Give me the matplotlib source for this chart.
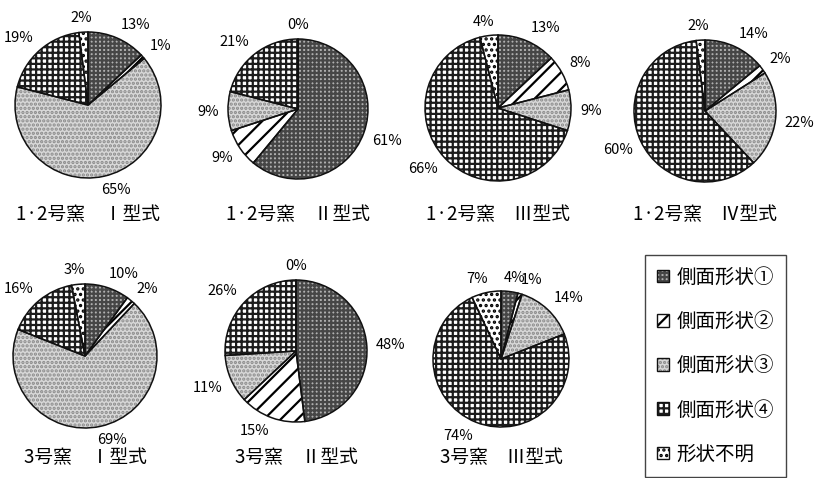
import numpy as np
import matplotlib.pyplot as plt
from matplotlib.patches import Patch

plt.rcParams['font.family'] = ['Noto Sans CJK JP', 'DejaVu Sans']
plt.rcParams['hatch.linewidth'] = 1.6

# side-profile categories (clockwise from 12 o'clock)
categories = ['側面形状①', '側面形状②', '側面形状③', '側面形状④', '形状不明']

titles = ['1·2号窯　Ⅰ型式', '1·2号窯　Ⅱ型式', '1·2号窯　Ⅲ型式', '1·2号窯　Ⅳ型式',
          '3号窯　Ⅰ型式', '3号窯　Ⅱ型式', '3号窯　Ⅲ型式']

# percentages per kiln / type
kiln12_type1 = [13, 1, 65, 19, 2]
kiln12_type2 = [61, 9, 9, 21, 0]
kiln12_type3 = [13, 8, 9, 66, 4]
kiln12_type4 = [14, 2, 22, 60, 2]
kiln3_type1 = [10, 2, 69, 16, 3]
kiln3_type2 = [48, 15, 11, 26, 0]
kiln3_type3 = [4, 1, 14, 74, 7]

groups = [kiln12_type1, kiln12_type2, kiln12_type3, kiln12_type4,
          kiln3_type1, kiln3_type2, kiln3_type3]

# fill, hatch colour and hatch pattern per category
faces = ['#b0b0b0', 'white', '#d8d8d8', 'white', 'white']
hatch_colors = ['#464646', 'black', '#8a8a8a', '#1c1c1c', 'black']
hatches = ['++++', '//', '....', '+++', '...']

W, H = 815, 478
fig = plt.figure(figsize=(W / 100, H / 100), dpi=100)
renderer = fig.canvas.get_renderer()

# pie centres, radii and title rows in pixels (from top-left)
centers = [(88, 105), (298, 109), (498, 108), (705, 111),
           (85, 356), (296, 351), (501, 359)]
radii = [73, 70, 73, 71, 72, 71, 68]
title_rows = [215, 215, 215, 215, 458, 458, 458]
side = 180
ppu = side / 2.5      # pixels per data unit inside each pie axes
gap = 9               # space between rim and label, px

for title, values, (cx, cy), r, ty in zip(titles, groups, centers, radii, title_rows):
    ax = fig.add_axes([(cx - side / 2) / W, 1 - (cy + side / 2) / H, side / W, side / H])
    radius = r / ppu
    wedges, _ = ax.pie(values, startangle=90, counterclock=False, colors=faces,
                       radius=radius, wedgeprops=dict(linewidth=0))
    for w, hc, h in zip(wedges, hatch_colors, hatches):
        w.set_edgecolor(hc)
        w.set_hatch(h)
    # outlines on top
    ax.pie(values, startangle=90, counterclock=False, radius=radius,
           wedgeprops=dict(fill=False, edgecolor='#111111', linewidth=1.1))
    ax.set_xlim(-1.25, 1.25)
    ax.set_ylim(-1.25, 1.25)

    # percentage labels just outside the rim, pushed out by their own size
    for w, v in zip(wedges, values):
        a = np.deg2rad((w.theta1 + w.theta2) / 2)
        t = ax.text(0, 0, f'{v}%', ha='center', va='center', fontsize=10.5)
        hw = t.get_window_extent(renderer).width / 2 / ppu
        hh = 5 / ppu
        dist = radius + gap / ppu
        x = dist * np.cos(a) + hw * np.clip(3 * np.cos(a), -1, 1)
        y = dist * np.sin(a) + hh * np.clip(3 * np.sin(a), -1, 1)
        t.set_position((x, y))

    fig.text(cx / W, 1 - ty / H, title, ha='center', va='center', fontsize=13.5)

handles = [(Patch(facecolor=f, edgecolor=hc, hatch=h, linewidth=0),
            Patch(fill=False, edgecolor='#111111', linewidth=1))
           for f, hc, h in zip(faces, hatch_colors, hatches)]
leg = fig.legend(handles, categories, loc='upper left',
                 bbox_to_anchor=(645 / W, 1 - 255 / H), borderaxespad=0,
                 fontsize=14, handlelength=0.6, handleheight=0.6,
                 handletextpad=0.4, labelspacing=1.19, borderpad=0.62,
                 fancybox=False, edgecolor='#444444', framealpha=1)
leg.get_frame().set_linewidth(1)

fig.savefig('out.png', dpi=100)
